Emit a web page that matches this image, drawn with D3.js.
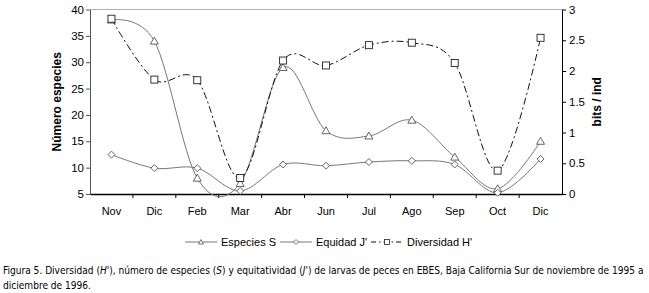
<!DOCTYPE html>
<html><head><meta charset="utf-8">
<script src="https://cdn.jsdelivr.net/npm/d3@7"></script>
<style>body{margin:0;background:#fff}svg{display:block}</style>
</head><body><div id="chart"></div>
<script>
const months = ["Nov","Dic","Feb","Mar","Abr","Jun","Jul","Ago","Sep","Oct","Dic"];
const especiesS = [38,34,8,7,29,17,16,19,12,6,15];
const equidadJ = [0.64,0.42,0.42,0.05,0.48,0.46,0.52,0.54,0.48,0.02,0.57];
const diversidadH = [2.85,1.86,1.85,0.26,2.17,2.09,2.42,2.46,2.13,0.38,2.54];
const leftTicks = [5,10,15,20,25,30,35,40];
const rightTicks = [0,0.5,1,1.5,2,2.5,3];

const W=649,H=293;
const m={l:90,r:562,t:9.5,b:194};
const svg=d3.select("#chart").append("svg").attr("width",W).attr("height",H);
const font="'Liberation Sans', Arial, Helvetica, sans-serif";

const x=d3.scaleBand().domain(d3.range(months.length)).range([m.l,m.r]);
const yL=d3.scaleLinear().domain([5,40]).range([m.b,m.t]);
const yR=d3.scaleLinear().domain([0,3]).range([m.b,m.t]);
const cx=i=>x(i)+x.bandwidth()/2;

// top border
svg.append("line").attr("x1",m.l).attr("x2",m.r).attr("y1",m.t).attr("y2",m.t).attr("stroke","#b0b0b0");

// left axis
const gl=svg.append("g").attr("transform",`translate(${m.l},0)`).call(d3.axisLeft(yL).tickValues(leftTicks).tickSize(4).tickSizeOuter(0));
gl.select(".domain").attr("stroke","#555");
gl.selectAll(".tick line").attr("stroke","#555");
gl.selectAll("text").attr("font-family",font).attr("font-size",11.5).attr("fill","#000").attr("x",-6);

// right axis
const gr=svg.append("g").attr("transform",`translate(${m.r},0)`).call(d3.axisRight(yR).tickValues(rightTicks).tickFormat(d3.format("~g")).tickSize(4).tickSizeOuter(0));
gr.select(".domain").attr("stroke","#000");
gr.selectAll("text").attr("font-family",font).attr("font-size",11.5).attr("fill","#000").attr("x",7);

// bottom axis
const gb=svg.append("g").attr("transform",`translate(0,${m.b})`).call(d3.axisBottom(x).tickValues([]).tickSizeOuter(0));
gb.select(".domain").attr("stroke","#000").attr("stroke-width",1.3);
const bounds=d3.range(months.length+1).map(i=>m.l+i*x.step());
gb.selectAll(".bt").data(bounds.slice(1,-1)).join("line").attr("x1",d=>d).attr("x2",d=>d).attr("y1",0).attr("y2",4).attr("stroke","#000");
gb.selectAll(".lbl").data(months).join("text").attr("x",(d,i)=>cx(i)).attr("y",21).attr("text-anchor","middle")
  .attr("fill","#000").attr("font-family",font).attr("font-size",11).text(d=>d);

// axis titles
svg.append("text").attr("transform",`translate(61,${(m.t+m.b)/2}) rotate(-90)`).attr("text-anchor","middle")
  .attr("font-family",font).attr("font-size",12).attr("font-weight","bold").text("Número especies");
svg.append("text").attr("transform",`translate(601,${(m.t+m.b)/2}) rotate(-90)`).attr("text-anchor","middle")
  .attr("font-family",font).attr("font-size",12).attr("font-weight","bold").text("bits / ind");

const curve=d3.curveCardinal.tension(0);
const series=[
  {name:"Especies S",vals:especiesS,y:yL,stroke:"#777",dash:null,mk:"tri"},
  {name:"Equidad J'",vals:equidadJ,y:yR,stroke:"#777",dash:null,mk:"dia"},
  {name:"Diversidad H'",vals:diversidadH,y:yR,stroke:"#111",dash:"7,3,2,3",mk:"sq"}
];
const marker=(g,type,px,py)=>{
  if(type==="tri") g.append("path").attr("d",`M${px},${py-4}L${px+4},${py+3}L${px-4},${py+3}Z`);
  else if(type==="dia") g.append("path").attr("d",`M${px},${py-3.5}L${px+3.5},${py}L${px},${py+3.5}L${px-3.5},${py}Z`);
  else g.append("rect").attr("x",px-3.5).attr("y",py-3.5).attr("width",7).attr("height",7);
};
series.forEach(s=>{
  const line=d3.line().x((d,i)=>cx(i)).y(d=>s.y(d)).curve(curve);
  svg.append("path").attr("d",line(s.vals)).attr("fill","none").attr("stroke",s.stroke).attr("stroke-width",1)
    .attr("stroke-dasharray",s.dash);
  const g=svg.append("g").attr("fill","#fff").attr("stroke",s.mk==="sq"?"#222":"#555").attr("stroke-width",0.9);
  s.vals.forEach((v,i)=>marker(g,s.mk,cx(i),s.y(v)));
});

// legend
let lx=185;
const ly=242;
series.forEach(s=>{
  const x1=lx,x2=lx+32;
  svg.append("line").attr("x1",x1).attr("x2",x2).attr("y1",ly).attr("y2",ly).attr("stroke",s.stroke)
    .attr("stroke-dasharray",s.dash?"5,3,1.5,3":null);
  const g=svg.append("g").attr("fill","#fff").attr("stroke",s.mk==="sq"?"#222":"#555").attr("stroke-width",0.8);
  const mx=(x1+x2)/2;
  if(s.mk==="tri") g.append("path").attr("d",`M${mx},${ly-2.5}L${mx+2.5},${ly+2}L${mx-2.5},${ly+2}Z`);
  else if(s.mk==="dia") g.append("path").attr("d",`M${mx},${ly-2.5}L${mx+2.5},${ly}L${mx},${ly+2.5}L${mx-2.5},${ly}Z`);
  else g.append("rect").attr("x",mx-2.5).attr("y",ly-2.5).attr("width",5).attr("height",5);
  const t=svg.append("text").attr("x",x2+4).attr("y",ly+4).attr("font-family",font).attr("font-size",11).text(s.name);
  lx=x2+4+t.node().getComputedTextLength()+4;
});

// caption
const capFont="'Liberation Sans Narrow','Arial Narrow','DejaVu Sans Condensed',Arial,sans-serif";
const c1=svg.append("text").attr("x",3).attr("y",274).attr("font-family",capFont).attr("font-size",12);
const parts=[["Figura 5. Diversidad (",0],["H'",1],["), número de especies (",0],["S",1],[") y equitatividad (",0],["J'",1],[") de larvas de peces en EBES, Baja California Sur de noviembre de 1995 a",0]];
parts.forEach(p=>c1.append("tspan").attr("font-style",p[1]?"italic":"normal").text(p[0]));
const c2=svg.append("text").attr("x",3).attr("y",289).attr("font-family",capFont).attr("font-size",12).text("diciembre de 1996.");
const wlen=c1.node().getComputedTextLength();
const fs=Math.min(13,12*641/wlen);
c1.attr("font-size",fs); c2.attr("font-size",fs);
</script></body></html>
